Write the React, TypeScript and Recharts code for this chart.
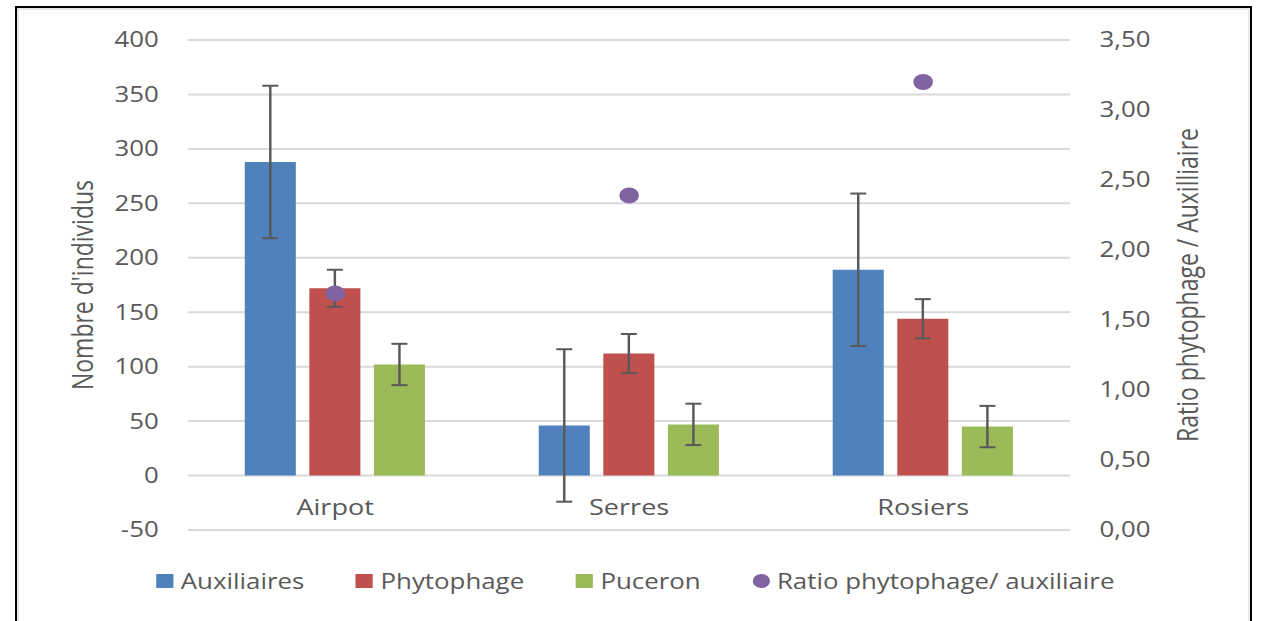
import { Bar, ComposedChart, XAxis, YAxis, CartesianGrid, ErrorBar, Scatter, Label } from 'recharts'

// data
const sites = ['Airpot', 'Serres', 'Rosiers']
const auxiliaires = [288, 46, 189]
const auxiliairesErr = [70, 70, 70]
const phytophage = [172, 112, 144]
const phytophageErr = [17, 18, 18]
const puceron = [102, 47, 45]
const puceronErr = [19, 19, 19]
const ratio = [1.69, 2.39, 3.2]

const leftTicks = [-50, 0, 50, 100, 150, 200, 250, 300, 350, 400]
const rightTicks = [0, 0.5, 1, 1.5, 2, 2.5, 3, 3.5]

const colors = {
  aux: '#4F81BD',
  phyto: '#C0504D',
  puceron: '#9BBB59',
  ratio: '#8064A2',
}

const legendItems = [
  { name: 'Auxiliaires', color: colors.aux, shape: 'square' },
  { name: 'Phytophage', color: colors.phyto, shape: 'square' },
  { name: 'Puceron', color: colors.puceron, shape: 'square' },
  { name: 'Ratio phytophage/ auxiliaire', color: colors.ratio, shape: 'circle' },
]

const data = sites.map((name, i) => ({
  name,
  aux: auxiliaires[i],
  auxErr: auxiliairesErr[i],
  phyto: phytophage[i],
  phytoErr: phytophageErr[i],
  puceron: puceron[i],
  puceronErr: puceronErr[i],
  ratio: ratio[i],
}))

const FONT = '"Open Sans", sans-serif'
const TEXT = '#595959'
const STRETCH = 1.23 // the reference is stretched horizontally
const W = 1025
const H = 621

function CategoryTick({ x, y, payload }: any) {
  return (
    <text x={x} y={y - 23} textAnchor="middle" fill={TEXT} fontSize={22} fontFamily={FONT}>
      {payload.value}
    </text>
  )
}

function AxisTitle({ viewBox, value, offsetX }: any) {
  const cx = viewBox.x + offsetX
  const cy = viewBox.y + viewBox.height / 2
  return (
    <text
      x={cx}
      y={cy}
      transform={`rotate(-90, ${cx}, ${cy})`}
      textAnchor="middle"
      dominantBaseline="central"
      fill={TEXT}
      fontSize={23}
      fontFamily={FONT}
    >
      {value}
    </text>
  )
}

function RatioDot({ cx, cy }: any) {
  return <circle cx={cx} cy={cy} r={8} fill={colors.ratio} />
}

function ChartLegend() {
  return (
    <div
      style={{
        position: 'absolute',
        top: 567,
        left: 0,
        width: W,
        paddingLeft: 8,
        boxSizing: 'border-box',
        display: 'flex',
        justifyContent: 'center',
        alignItems: 'center',
        gap: 42,
        fontFamily: FONT,
        fontSize: 21,
        color: TEXT,
        lineHeight: '28px',
      }}
    >
      {legendItems.map((item) => (
        <div key={item.name} style={{ display: 'flex', alignItems: 'center' }}>
          <span
            style={{
              width: 14,
              height: 14,
              background: item.color,
              borderRadius: item.shape === 'circle' ? '50%' : 0,
              marginRight: 6,
            }}
          />
          <span>{item.name}</span>
        </div>
      ))}
    </div>
  )
}

export default function App() {
  return (
    <div style={{ position: 'absolute', top: 0, left: 0, width: 1261, height: H, overflow: 'hidden', background: '#fff' }}>
      {/* frame */}
      <div
        style={{
          position: 'absolute',
          left: 15,
          top: 6,
          width: 1233,
          height: 700,
          border: '2px solid #000',
          boxShadow: 'inset 0 0 0 2px #e6e6e6',
        }}
      />
      <div style={{ position: 'absolute', top: 0, left: 0, width: W, height: H, transform: `scaleX(${STRETCH})`, transformOrigin: '0 0' }}>
        <ComposedChart
          width={W}
          height={H}
          data={data}
          margin={{ top: 40, right: 0, left: 0, bottom: 61 }}
          barGap={11}
          barSize={41.5}
          style={{ fontFamily: FONT }}
        >
          <CartesianGrid yAxisId="left" vertical={false} stroke="#D9D9D9" strokeWidth={2} />
          <XAxis
            dataKey="name"
            axisLine={false}
            tickLine={false}
            height={30}
            tick={<CategoryTick />}
          />
          <YAxis
            yAxisId="left"
            domain={[-50, 400]}
            ticks={leftTicks}
            interval={0}
            width={153}
            axisLine={false}
            tickLine={false}
            tickSize={0}
            tickMargin={24}
            tick={{ fill: TEXT, fontSize: 21, fontFamily: FONT }}
          >
            <Label content={<AxisTitle value="Nombre d'individus" offsetX={67} />} />
          </YAxis>
          <YAxis
            yAxisId="right"
            orientation="right"
            domain={[0, 3.5]}
            ticks={rightTicks}
            interval={0}
            width={155}
            axisLine={false}
            tickLine={false}
            tickSize={0}
            tickMargin={24}
            tick={{ fill: TEXT, fontSize: 21, fontFamily: FONT }}
            tickFormatter={(v: number) => v.toFixed(2).replace('.', ',')}
          >
            <Label content={<AxisTitle value="Ratio phytophage / Auxilliaire" offsetX={95} />} />
          </YAxis>
          <Bar yAxisId="left" dataKey="aux" name="Auxiliaires" fill={colors.aux} isAnimationActive={false}>
            <ErrorBar dataKey="auxErr" width={6.5} stroke="#595959" strokeWidth={2} />
          </Bar>
          <Bar yAxisId="left" dataKey="phyto" name="Phytophage" fill={colors.phyto} isAnimationActive={false}>
            <ErrorBar dataKey="phytoErr" width={6.5} stroke="#595959" strokeWidth={2} />
          </Bar>
          <Bar yAxisId="left" dataKey="puceron" name="Puceron" fill={colors.puceron} isAnimationActive={false}>
            <ErrorBar dataKey="puceronErr" width={6.5} stroke="#595959" strokeWidth={2} />
          </Bar>
          <Scatter yAxisId="right" dataKey="ratio" name="Ratio phytophage/ auxiliaire" fill={colors.ratio} shape={<RatioDot />} isAnimationActive={false} />
        </ComposedChart>
        <ChartLegend />
      </div>
    </div>
  )
}
